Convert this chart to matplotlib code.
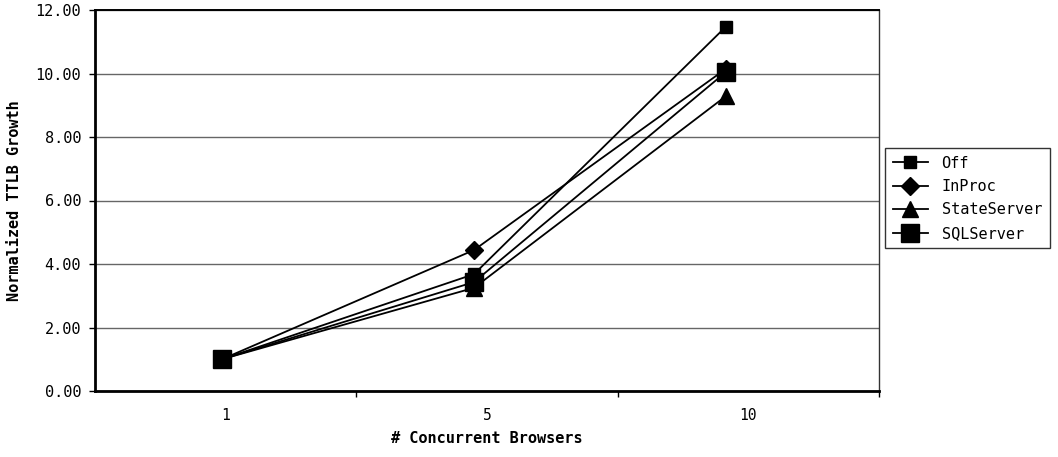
import numpy as np
import matplotlib
matplotlib.use('Agg')
import matplotlib.pyplot as plt

# data
browsers = ['1', '5', '10']
off = [1.00, 3.68, 11.48]
inproc = [1.00, 4.44, 10.15]
state_server = [1.00, 3.25, 9.29]
sql_server = [1.00, 3.43, 10.05]

plt.rcParams['font.family'] = ['DejaVu Sans Mono']

fig = plt.figure(figsize=(10.58, 4.57), dpi=100)
ax = fig.add_axes([95 / 1058, 66 / 457, 784 / 1058, 381 / 457])

x = np.arange(len(browsers))
# points sit a little left of the category centres in the original
x_lo, x_hi = -0.504, 2.607
edges = np.linspace(x_lo, x_hi, len(browsers) + 1)
centres = (edges[:-1] + edges[1:]) / 2

series = [('Off', off, 's', 9),
          ('InProc', inproc, 'D', 9.5),
          ('StateServer', state_server, '^', 11),
          ('SQLServer', sql_server, 's', 13.5)]
for name, vals, m, ms in series:
    ax.plot(x, vals, marker=m, markersize=ms, color='black', linewidth=1.3,
            label=name, clip_on=False)

ax.set_xlim(x_lo, x_hi)
ax.set_ylim(0, 12)
ax.set_yticks(np.arange(0, 13, 2))
ax.yaxis.set_major_formatter('{x:.2f}')
ax.set_xticks(centres)
ax.set_xticklabels(browsers)
ax.set_xticks(edges[1:], minor=True)
ax.tick_params(axis='x', which='major', length=0, pad=12, labelsize=10.5)
ax.tick_params(axis='x', which='minor', length=4, width=1, direction='out')
ax.tick_params(axis='y', length=4, width=1, pad=6, labelsize=11)
ax.grid(axis='y', color='#666666', linewidth=1)
ax.set_axisbelow(True)

ax.spines['left'].set_linewidth(2)
ax.spines['bottom'].set_linewidth(2)
ax.spines['top'].set_linewidth(1.4)
ax.spines['right'].set_linewidth(1)
ax.spines['right'].set_color('#333333')

ax.set_xlabel('# Concurrent Browsers', fontsize=11, fontweight='bold', labelpad=6)
ax.set_ylabel('Normalized TTLB Growth', fontsize=11, fontweight='bold', labelpad=10)

leg = fig.legend(loc='upper left', bbox_to_anchor=(885 / 1058, 1 - 148 / 457),
                 frameon=True, fancybox=False, edgecolor='black', borderaxespad=0,
                 fontsize=11, handlelength=2.3, handletextpad=0.9,
                 labelspacing=0.55, borderpad=0.5)
leg.get_frame().set_linewidth(1.0)

fig.savefig('out.png', dpi=100)
